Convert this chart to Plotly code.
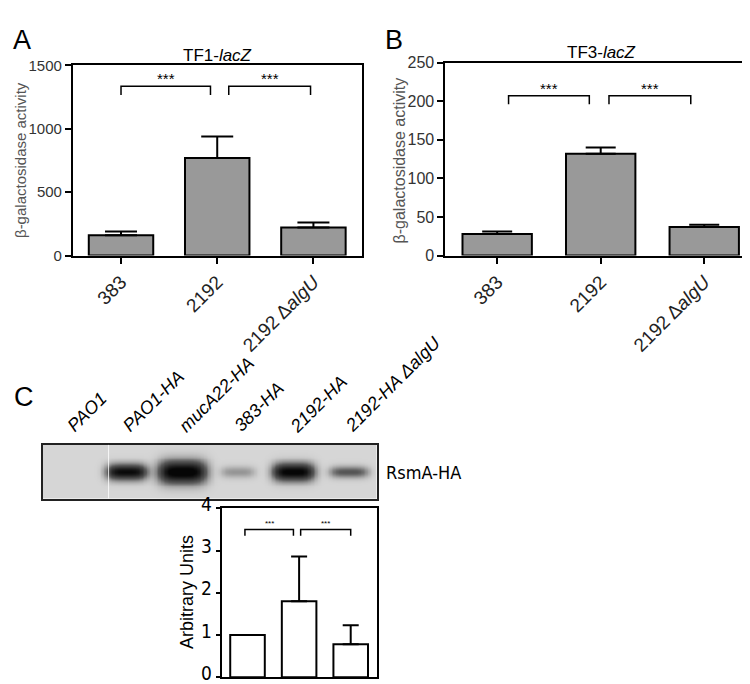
"""Reporter activity (A, B) and RsmA-HA western blot with densitometry (C)."""

import numpy as np
import plotly.graph_objects as go

# ---- data -------------------------------------------------------------
strains = ["383", "2192", "2192 Δ<i>algU</i>"]

tf1_mean = [160, 770, 221]
tf1_err = [30, 170, 40]

tf3_mean = [28, 132, 37]
tf3_err = [3, 8, 3]

blot_lanes = ["PAO1", "PAO1-HA", "mucA22-HA", "383-HA", "2192-HA", "2192-HA Δ<i>algU</i>"]
band_intensity = [0.0, 0.9, 1.0, 0.22, 0.95, 0.45]
band_width = [0.7, 0.74, 0.88, 0.62, 0.76, 0.7]     # in lane units
band_height = [0.13, 0.14, 0.21, 0.1, 0.16, 0.1]     # fraction of blot height

rsma_mean = [1.0, 1.8, 0.78]
rsma_err = [0.0, 1.06, 0.45]

W, H = 750, 684
BAR_GREY = "#999999"
FONT = "Liberation Sans, Arial, sans-serif"
NARROW = "Liberation Sans Narrow, Arial Narrow, DejaVu Sans Condensed, sans-serif"


def px_x(x):
    return x / W


def px_y(y):
    return 1 - y / H


fig = go.Figure()


def add_bars(xref, yref, means, errs, fill, cap):
    fig.add_trace(
        go.Bar(
            x=list(range(len(means))),
            y=means,
            width=0.67,
            marker=dict(color=fill, line=dict(color="black", width=2)),
            error_y=dict(
                type="data",
                symmetric=False,
                array=errs,
                arrayminus=[0] * len(errs),
                color="black",
                thickness=2,
                width=cap,
            ),
            xaxis=xref,
            yaxis=yref,
            showlegend=False,
            hoverinfo="skip",
        )
    )


def add_bracket(xref, yref, x0, x1, ytop, ybot, stars_y, star_size):
    fig.add_trace(
        go.Scatter(
            x=[x0, x0, x1, x1],
            y=[ybot, ytop, ytop, ybot],
            mode="lines",
            line=dict(color="black", width=1.5),
            xaxis=xref,
            yaxis=yref,
            showlegend=False,
            hoverinfo="skip",
        )
    )
    fig.add_annotation(
        x=(x0 + x1) / 2, y=stars_y, xref=xref, yref=yref,
        text="***", showarrow=False, yanchor="middle",
        font=dict(size=star_size, color="black", family=FONT),
    )


# Panel A
add_bars("x", "y", tf1_mean, tf1_err, BAR_GREY, 16)
add_bracket("x", "y", 0.0, 0.93, 1336, 1267, 1395, 15)
add_bracket("x", "y", 1.12, 1.97, 1336, 1267, 1395, 15)

# Panel B
add_bars("x2", "y2", tf3_mean, tf3_err, BAR_GREY, 15)
add_bracket("x2", "y2", 0.11, 0.89, 207, 196, 217, 15)
add_bracket("x2", "y2", 1.08, 1.87, 207, 196, 217, 15)

# Panel C blot (rendered from per-lane band intensities)
gx = np.linspace(0, 6, 241)
gy = np.linspace(0, 1, 57)
GX, GY = np.meshgrid(gx, gy)
z = np.full_like(GX, 0.08)
for i, inten in enumerate(band_intensity):
    cx = i + 0.5
    sx = band_width[i] / 2
    sy = band_height[i]
    z += inten * np.exp(-np.abs((GX - cx) / sx) ** 4) * np.exp(-((GY - 0.5) / sy) ** 2)
z = np.clip(z, 0, 1)
fig.add_trace(
    go.Heatmap(
        x=gx, y=gy, z=z, zmin=0, zmax=1, zsmooth="best",
        colorscale=[[0, "#e4e4e4"], [0.08, "#d6d6d6"], [0.5, "#5a5a5a"], [1, "#060606"]],
        showscale=False, hoverinfo="skip", xaxis="x3", yaxis="y3",
    )
)
# splice line between lanes 1 and 2
fig.add_shape(type="line", xref="x3", yref="y3", x0=1.18, x1=1.18, y0=0, y1=1,
              line=dict(color="rgba(255,255,255,0.8)", width=1))

# Panel C densitometry
add_bars("x4", "y4", rsma_mean, rsma_err, "white", 8)
add_bracket("x4", "y4", -0.05, 0.89, 3.5, 3.35, 3.63, 8)
add_bracket("x4", "y4", 1.03, 2.0, 3.5, 3.35, 3.63, 8)

# ---- axes --------------------------------------------------------------
axis_common = dict(
    showline=True, linecolor="black", linewidth=2, mirror=True,
    ticks="outside", tickcolor="black", tickwidth=2, ticklen=6,
    showgrid=False, zeroline=False, fixedrange=True,
)
cat_axis = dict(
    axis_common,
    range=[-0.5, 2.5],
    tickvals=[0, 1, 2],
    ticktext=strains,
    tickangle=-45,
    tickfont=dict(size=19, family=FONT, color="#222"),
)

fig.update_layout(
    width=W, height=H,
    margin=dict(l=0, r=0, t=0, b=0),
    plot_bgcolor="white", paper_bgcolor="white",
    bargap=0.33,
    xaxis=dict(cat_axis, domain=[px_x(65), px_x(354)], anchor="y"),
    yaxis=dict(axis_common, domain=[px_y(241), px_y(44)], anchor="x",
               range=[0, 1500], tickvals=[0, 500, 1000, 1500],
               tickfont=dict(size=15, family=FONT, color="#333")),
    xaxis2=dict(cat_axis, domain=[px_x(438), px_x(749)], anchor="y2"),
    yaxis2=dict(axis_common, domain=[px_y(241), px_y(41)], anchor="x2",
                range=[0, 250], dtick=50,
                tickfont=dict(size=16, family=FONT, color="#333")),
    xaxis3=dict(domain=[px_x(35), px_x(369)], anchor="y3", range=[0, 6],
                showline=True, linecolor="#222", linewidth=1.5, mirror=True,
                showticklabels=False, ticks="", showgrid=False, zeroline=False),
    yaxis3=dict(domain=[px_y(493), px_y(437)], anchor="x3", range=[0, 1],
                showline=True, linecolor="#222", linewidth=1.5, mirror=True,
                showticklabels=False, ticks="", showgrid=False, zeroline=False),
    xaxis4=dict(axis_common, domain=[px_x(214), px_x(369)], anchor="y4",
                range=[-0.5, 2.5], showticklabels=False, ticks=""),
    yaxis4=dict(axis_common, domain=[px_y(678), px_y(503)], anchor="x4",
                range=[0, 4], dtick=1, ticklen=4, ticklabelshift=-4,
                tickfont=dict(size=19, family=NARROW, color="black")),
)

# ---- text --------------------------------------------------------------
ann = []
ann.append(dict(x=px_x(3), y=px_y(0), text="A", xanchor="left", yanchor="top",
                font=dict(size=27, family=FONT, color="black")))
ann.append(dict(x=px_x(376), y=px_y(0), text="B", xanchor="left", yanchor="top",
                font=dict(size=27, family=FONT, color="black")))
ann.append(dict(x=px_x(4), y=px_y(388), text="C", xanchor="left", yanchor="middle",
                font=dict(size=27, family=FONT, color="black")))
ann.append(dict(x=px_x(210), y=px_y(34), text="TF1-<i>lacZ</i>", xanchor="center",
                yanchor="middle", font=dict(size=17, family=FONT, color="black")))
ann.append(dict(x=px_x(594), y=px_y(31), text="TF3-<i>lacZ</i>", xanchor="center",
                yanchor="middle", font=dict(size=17, family=FONT, color="black")))
ann.append(dict(x=px_x(12), y=px_y(142), text="β-galactosidase activity", textangle=-90,
                xanchor="center", yanchor="middle",
                font=dict(size=15, family=FONT, color="#555")))
ann.append(dict(x=px_x(392), y=px_y(142), text="β-galactosidase activity", textangle=-90,
                xanchor="center", yanchor="middle",
                font=dict(size=16, family=FONT, color="#555")))
ann.append(dict(x=px_x(180), y=px_y(590), text="Arbitrary Units", textangle=-90,
                xanchor="center", yanchor="middle",
                font=dict(size=18, family=FONT, color="black")))
ann.append(dict(x=px_x(377), y=px_y(466), text="RsmA-HA", xanchor="left",
                yanchor="middle", font=dict(size=18, family=NARROW, color="black")))

lane_w = (369 - 35) / len(blot_lanes)
for i, lab in enumerate(blot_lanes):
    cx = 35 + lane_w * (i + 0.5)
    ann.append(dict(x=px_x(cx - 10), y=px_y(431), text=f"<i>{lab}</i>", textangle=-45,
                    xanchor="left", yanchor="bottom",
                    font=dict(size=18, family=FONT, color="black")))

for a in ann:
    a.update(xref="paper", yref="paper", showarrow=False)
    fig.add_annotation(**a)

fig.write_html("out.html")
